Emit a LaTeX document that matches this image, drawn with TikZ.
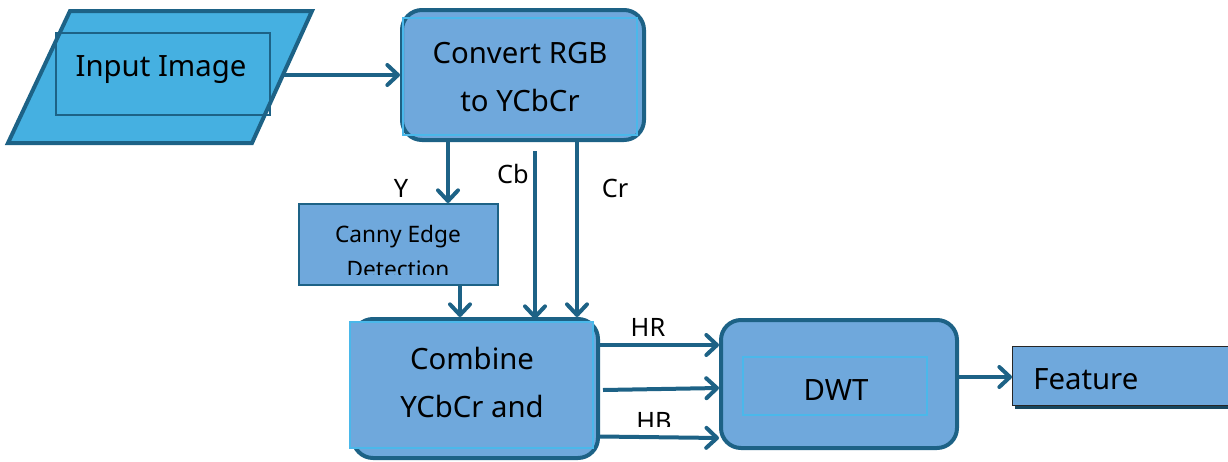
\documentclass[tikz,border=0pt]{standalone}
\usepackage{fontspec}
\setmainfont{Noto Sans}
\usetikzlibrary{arrows.meta,calc}
\definecolor{edgec}{HTML}{1D6286}
\definecolor{boxfill}{HTML}{6FA8DC}
\definecolor{parafill}{HTML}{45B0E1}
\definecolor{innerc}{HTML}{4AB8EA}
\definecolor{shadowc}{HTML}{17465E}
\begin{document}
\begin{tikzpicture}[x=0.75pt,y=-0.75pt,
  bigtxt/.style={font=\fontsize{22}{36}\selectfont, align=center, inner sep=0pt},
  smalltxt/.style={font=\fontsize{19}{26}\selectfont, inner sep=0pt},
  roundbox/.style={draw=edgec, line width=3pt, fill=boxfill, rounded corners=15pt},
  innerbox/.style={draw=innerc, line width=0.8pt},
  conn/.style={draw=edgec, line width=3pt, -{Straight Barb[length=8pt,width=15pt,round]}},
]
\useasboundingbox (0,0) rectangle (1228,461);

% Input parallelogram
\draw[draw=edgec, line width=3pt, fill=parafill, line join=miter]
  (8,143) -- (70,11) -- (312,11) -- (252,143) -- cycle;
\node[draw=edgec, line width=1pt, minimum width=160.5pt, minimum height=61.5pt] (inp) at (163,74) {};
\node[bigtxt] (inptxt) at (161,70) {Input Image};
\coordinate (inR) at (283,75);

% Convert box
\node[roundbox, minimum width=181.5pt, minimum height=97.5pt] (conv) at (523,75) {};
\draw[innerbox] (403,18) rectangle (637,135);
\node[bigtxt] (convtxt) at (520,77) {Convert RGB\\to YCbCr};

% Canny box
\node[draw=edgec, line width=1.5pt, fill=boxfill, minimum width=149.25pt, minimum height=60.75pt] (canny) at (398.5,244.5) {};
\begin{scope}
  \clip (299,205) rectangle (498,274);
  \node[inner sep=0pt, align=center, font=\fontsize{17}{26.25}\selectfont] (cannytxt) at (398,251) {Canny Edge\\Detection};
\end{scope}

% Combine box
\node[roundbox, minimum width=183.75pt, minimum height=104.25pt] (comb) at (475.5,388.5) {};
\draw[innerbox, fill=boxfill] (350,322) rectangle (593,448);
\node[bigtxt] (combtxt) at (472,382) {Combine\\YCbCr and};

% DWT box
\node[roundbox, minimum width=177pt, minimum height=96pt] (dwt) at (839,384) {};
\draw[innerbox] (743,357) rectangle (927,415);
\node[bigtxt] (dwttxt) at (836,390) {DWT};

% Feature box
\fill[shadowc] (1015,349) rectangle (1240,409);
\node[draw=black!85, line width=1pt, fill=boxfill, minimum width=169.5pt, minimum height=44.25pt, anchor=north west] (feat) at (1012,346) {};
\node[bigtxt, anchor=west] (feattxt) at (1033,379) {Feature};

% connectors
\draw[conn] (inR) -- (conv.west |- inR);
\coordinate (ys) at ($(conv.south)+(-75,0)$);
\draw[conn] (ys) -- (ys |- canny.north);
\coordinate (cbs) at (535,151);
\draw[conn] (cbs) -- ($(cbs |- comb.north)+(0,2)$);
\coordinate (crs) at ($(conv.south)+(54,0)$);
\draw[conn] (crs) -- (crs |- comb.north);
\coordinate (cs) at ($(canny.south)+(61.5,0)$);
\draw[conn] (cs) -- (cs |- comb.north);

\coordinate (h1) at ($(comb.east)+(0,-43.5)$);
\draw[conn] (h1) -- (h1 -| dwt.west);
\coordinate (h2) at (603,390);
\draw[conn] (h2) -- ($(dwt.west)+(0,4)$);
\coordinate (h3) at ($(comb.east)+(0,48)$);
\draw[conn] (h3) -- ($(h3 -| dwt.west)+(0,1.5)$);
\coordinate (ds) at (dwt.east |- 0,377);
\draw[conn] (ds) -- (ds -| feat.west);

% labels
\node[smalltxt] (ly) at (401,188) {Y};
\node[smalltxt] (lcb) at (513,174) {Cb};
\node[smalltxt] (lcr) at (615,188) {Cr};
\node[smalltxt] (lhr) at (648,327) {HR};
\begin{scope}
  \clip (620,400) rectangle (700,426);
  \node[smalltxt] (lhb) at (654,421) {HB};
\end{scope}
\end{tikzpicture}
\end{document}
